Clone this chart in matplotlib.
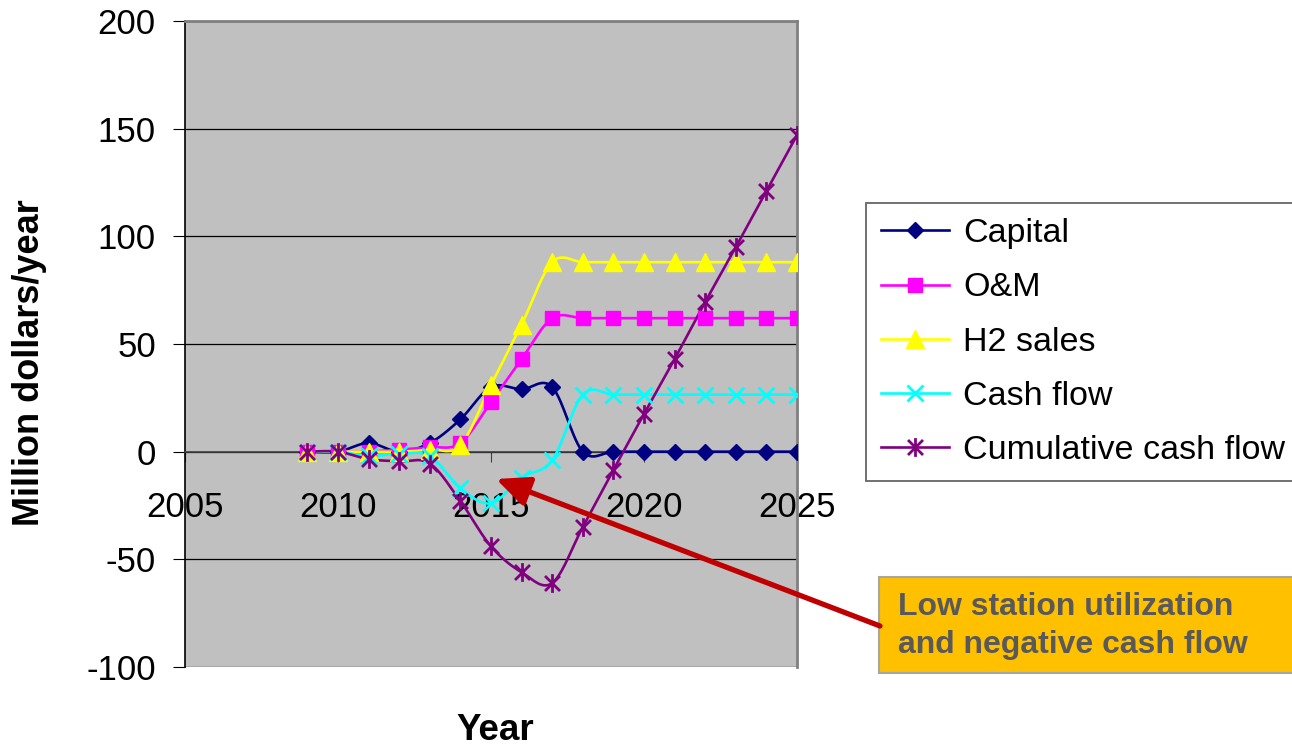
import numpy as np
import matplotlib
matplotlib.use("Agg")
import matplotlib.pyplot as plt
from matplotlib.path import Path
from matplotlib.patches import FancyArrowPatch, Rectangle

plt.rcParams['font.family'] = ['Liberation Sans', 'DejaVu Sans']
plt.rcParams['axes.unicode_minus'] = False

years = list(range(2009, 2026))
capital = [0, 0, 4, 0, 4, 15, 30, 29, 30, 0, 0, 0, 0, 0, 0, 0, 0]
om = [0, 0, 0, 1, 2, 4, 23, 43, 62, 62, 62, 62, 62, 62, 62, 62, 62]
h2_sales = [0, 0, 0, 0, 1, 3, 31, 59, 88, 88, 88, 88, 88, 88, 88, 88, 88]
cash_flow = [0, 0, -2, -1, -2, -17, -24, -12, -4, 26.5, 26.5, 26.5, 26.5, 26.5, 26.5, 26.5, 26.5]
cumulative = [0, 0, -3.5, -4.5, -5.5, -23, -44, -56, -61, -35, -8.5, 17.5, 43, 69.5, 95, 121, 147]

x_ticks = [2005, 2010, 2015, 2020, 2025]
y_ticks = [-100, -50, 0, 50, 100, 150, 200]


def smooth(xs, ys, n=30):
    """Bezier smoothing through every point (Catmull-Rom style)."""
    xs = np.asarray(xs, float)
    ys = np.asarray(ys, float)
    pts = np.column_stack([xs, ys])
    ext = np.vstack([pts[0], pts, pts[-1]])
    out = [pts[0]]
    t = np.linspace(0, 1, n)[1:, None]
    for i in range(len(pts) - 1):
        p0, p1, p2, p3 = ext[i], ext[i + 1], ext[i + 2], ext[i + 3]
        c1 = p1 + (p2 - p0) / 6.0
        c2 = p2 - (p3 - p1) / 6.0
        seg = ((1 - t) ** 3) * p1 + 3 * ((1 - t) ** 2) * t * c1 + 3 * (1 - t) * t ** 2 * c2 + t ** 3 * p2
        out.extend(seg)
    out = np.array(out)
    return out[:, 0], out[:, 1]


# asterisk marker: a vertical stroke crossed by an x
star = Path([(0, -1), (0, 1), (-0.8, -0.8), (0.8, 0.8), (-0.8, 0.8), (0.8, -0.8)],
            [Path.MOVETO, Path.LINETO, Path.MOVETO, Path.LINETO, Path.MOVETO, Path.LINETO])

series = [
    ("Capital", capital, "#000080", "D", 8.5, {}),
    ("O&M", om, "#FF00FF", "s", 10, {}),
    ("H2 sales", h2_sales, "#FFFF00", "^", 12.5, {}),
    ("Cash flow", cash_flow, "#00FFFF", "x", 11, {"markeredgewidth": 2}),
    ("Cumulative cash flow", cumulative, "#800080", star, 13.5, {"markeredgewidth": 2}),
]

fig = plt.figure(figsize=(12.92, 7.45), dpi=100)
ax = fig.add_axes([185 / 1292, 78 / 745, 612 / 1292, 646 / 745])
ax.set_facecolor("#C0C0C0")

for label, vals, color, marker, ms, extra in series:
    sx, sy = smooth(years, vals)
    ax.plot(sx, sy, color=color, lw=1.9, zorder=3)
    ax.plot(years, vals, linestyle="none", marker=marker, markersize=ms,
            color=color, markeredgecolor=color, zorder=4, **extra)
    ax.plot([], [], color=color, lw=1.9, marker=marker, markersize=ms,
            markeredgecolor=color, label=label, **extra)

ax.set_xlim(2005, 2025)
ax.set_ylim(-100, 200)
ax.set_xticks(x_ticks)
ax.set_yticks(y_ticks)
ax.yaxis.grid(True, color="black", lw=0.9)
ax.set_axisbelow(True)

ax.spines["bottom"].set_position(("data", 0))
ax.spines["bottom"].set_color("#404040")
ax.spines["bottom"].set_linewidth(1.2)
ax.spines["left"].set_color("black")
ax.spines["left"].set_linewidth(1.2)
for s in ("top", "right"):
    ax.spines[s].set_color("#808080")
    ax.spines[s].set_linewidth(2)

ax.tick_params(axis="x", direction="out", length=7, pad=21, labelsize=25, color="#404040")
ax.tick_params(axis="y", direction="out", length=9, pad=12, labelsize=25)

fig.text(30 / 1292, 1 - 363 / 745, "Million dollars/year", rotation=90, ha="center", va="center",
         fontsize=26, fontweight="bold")
fig.text(495 / 1292, 1 - 730 / 745, "Year", ha="center", va="center",
         fontsize=26.5, fontweight="bold")

leg = fig.legend(loc="upper left", bbox_to_anchor=(866 / 1292, 1 - 203 / 745),
                 frameon=True, fancybox=False, fontsize=24.5, handlelength=2.0,
                 labelspacing=0.68, borderpad=0.45, handletextpad=0.4, borderaxespad=0)
leg.get_frame().set_edgecolor("#404040")
leg.get_frame().set_linewidth(1.3)

box = Rectangle((879 / 1292, 1 - 673 / 745), 420 / 1292, 96 / 745, transform=fig.transFigure,
                facecolor="#FFC000", edgecolor="#A6A6A6", lw=1.5)
fig.add_artist(box)
fig.text(898 / 1292, 1 - 607 / 745, "Low station utilization", ha="left", va="center",
         fontsize=23, fontweight="bold", color="#595959")
fig.text(898 / 1292, 1 - 645 / 745, "and negative cash flow", ha="left", va="center",
         fontsize=23, fontweight="bold", color="#595959")

arrow = FancyArrowPatch(posA=(880 / 1292, 1 - 626 / 745), posB=(496 / 1292, 1 - 479 / 745),
                        transform=fig.transFigure, arrowstyle="-|>,head_length=20,head_width=9",
                        color="#C00000", lw=3.8, mutation_scale=1, zorder=10,
                        shrinkA=0, shrinkB=0)
fig.add_artist(arrow)

fig.savefig("out.png", dpi=100)
